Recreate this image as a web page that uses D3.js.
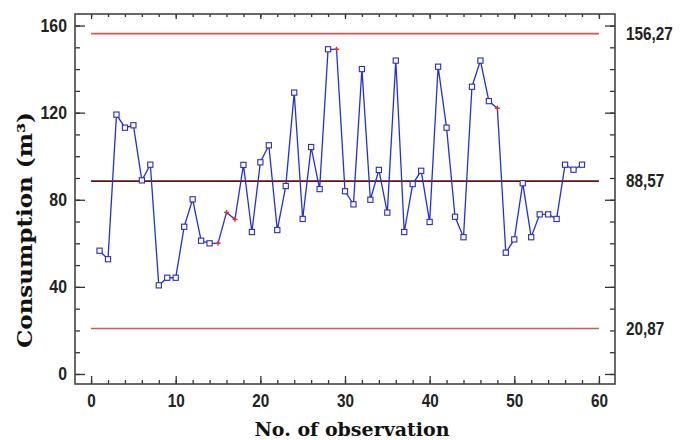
<!DOCTYPE html>
<html>
<head>
<meta charset="utf-8">
<script src="https://cdn.jsdelivr.net/npm/d3@7"></script>
<style>
  body { margin: 0; background: #fff; }
  .tick text { font-family: "Liberation Sans", Arial, sans-serif; font-weight: bold; }
</style>
</head>
<body>
<div id="chart"></div>
<script>
// consumption per observation (m3)
const observations = d3.range(1, 59);
const consumption = [
  56.6, 52.7, 119.1, 113.1, 114.2, 88.9, 96.1, 40.7, 44.2, 44.2,
  67.6, 80.2, 61.2, 60.0, 60.0, 74.2, 71.0, 96.0, 65.2, 97.2,
  105.0, 66.1, 86.3, 129.2, 71.2, 104.2, 84.9, 149.1, 149.1, 83.9,
  77.9, 140.0, 80.0, 93.7, 74.1, 143.9, 65.2, 87.2, 93.3, 69.8,
  141.1, 113.1, 72.2, 62.8, 131.9, 143.9, 125.3, 122.0, 55.7, 61.8,
  87.6, 62.8, 73.3, 73.3, 71.2, 96.1, 93.8, 96.1
];
// observations drawn as red crosses instead of squares
const flagged = [15, 16, 17, 29, 48];
// control limits
const limitValues = [156.27, 88.57, 20.87];
const limitLabels = ['156,27', '88,57', '20,87'];

const yMajor = [0, 40, 80, 120, 160];
const xMajor = [0, 10, 20, 30, 40, 50, 60];

const width = 682, height = 440;

const svg = d3.select('#chart')
  .append('svg')
  .attr('width', width)
  .attr('height', height);

const x = d3.scaleLinear().domain([-1.9, 61.9]).range([75, 615]);
const y = d3.scaleLinear().domain([-4.6, 165.3]).range([384, 14]);

const x0 = x.range()[0], x1 = x.range()[1];
const y0 = y.range()[0], y1 = y.range()[1];

// squeeze text a bit, the original uses a narrow bold face
function narrow(sel, factor) {
  sel.each(function() {
    const w = this.getComputedTextLength();
    d3.select(this)
      .attr('textLength', w * factor)
      .attr('lengthAdjust', 'spacingAndGlyphs');
  });
}

// limit lines
svg.selectAll('.limit')
  .data(limitValues)
  .enter()
  .append('line')
  .attr('class', 'limit')
  .attr('x1', x(0))
  .attr('x2', x(60))
  .attr('y1', d => y(d))
  .attr('y2', d => y(d))
  .attr('stroke', (d, i) => i === 1 ? '#5c1414' : '#cc5a55')
  .attr('stroke-width', 1.6);

// axes, ticks pointing inward
function styleAxis(g) {
  g.select('.domain').remove();
  g.selectAll('.tick line').attr('stroke', '#333').attr('stroke-width', 1.3);
  g.selectAll('.tick text').attr('fill', '#222').style('font-size', '18px');
}

svg.append('g')
  .attr('transform', `translate(${x0},0)`)
  .call(d3.axisLeft(y).tickValues(d3.range(0, 161, 10)).tickSize(-5).tickFormat(''))
  .call(styleAxis);
svg.append('g')
  .attr('transform', `translate(${x0},0)`)
  .call(d3.axisLeft(y).tickValues(yMajor).tickSize(-10).tickPadding(8))
  .call(styleAxis)
  .selectAll('.tick text').call(narrow, 0.88);

svg.append('g')
  .attr('transform', `translate(${x1},0)`)
  .call(d3.axisRight(y).tickValues(d3.range(0, 161, 10)).tickSize(-5).tickFormat(''))
  .call(styleAxis);
svg.append('g')
  .attr('transform', `translate(${x1},0)`)
  .call(d3.axisRight(y).tickValues(yMajor).tickSize(-10).tickFormat(''))
  .call(styleAxis);

svg.append('g')
  .attr('transform', `translate(0,${y0})`)
  .call(d3.axisBottom(x).tickValues(d3.range(0, 61, 2)).tickSize(-4).tickFormat(''))
  .call(styleAxis);
svg.append('g')
  .attr('transform', `translate(0,${y0})`)
  .call(d3.axisBottom(x).tickValues(xMajor).tickSize(-8).tickPadding(10))
  .call(styleAxis)
  .selectAll('.tick text').call(narrow, 0.85);

svg.append('g')
  .attr('transform', `translate(0,${y1})`)
  .call(d3.axisTop(x).tickValues(d3.range(0, 61, 2)).tickSize(-3).tickFormat(''))
  .call(styleAxis);
svg.append('g')
  .attr('transform', `translate(0,${y1})`)
  .call(d3.axisTop(x).tickValues(xMajor).tickSize(-5).tickFormat(''))
  .call(styleAxis);

// frame
svg.append('rect')
  .attr('x', x0)
  .attr('y', y1)
  .attr('width', x1 - x0)
  .attr('height', y0 - y1)
  .attr('fill', 'none')
  .attr('stroke', '#444')
  .attr('stroke-width', 1.6);

// limit labels on the right
svg.selectAll('.limit-label')
  .data(limitValues)
  .enter()
  .append('text')
  .attr('class', 'limit-label')
  .attr('x', 626)
  .attr('y', d => y(d))
  .attr('dy', '0.35em')
  .style('font-family', '"Liberation Sans", Arial, sans-serif')
  .style('font-weight', 'bold')
  .style('font-size', '18px')
  .attr('fill', '#222')
  .text((d, i) => limitLabels[i])
  .call(narrow, 0.85);

// series
const points = observations.map((o, i) => ({ obs: o, value: consumption[i] }));

svg.append('path')
  .datum(points)
  .attr('fill', 'none')
  .attr('stroke', '#2430d8')
  .attr('stroke-width', 1.3)
  .attr('d', d3.line().x(d => x(d.obs)).y(d => y(d.value)));

svg.selectAll('.pt')
  .data(points.filter(d => !flagged.includes(d.obs)))
  .enter()
  .append('rect')
  .attr('class', 'pt')
  .attr('x', d => x(d.obs) - 2.6)
  .attr('y', d => y(d.value) - 2.6)
  .attr('width', 5.2)
  .attr('height', 5.2)
  .attr('fill', '#fff')
  .attr('stroke', '#2a2ac8')
  .attr('stroke-width', 1.1);

svg.selectAll('.flag')
  .data(points.filter(d => flagged.includes(d.obs)))
  .enter()
  .append('path')
  .attr('class', 'flag')
  .attr('d', d => `M${x(d.obs) - 2.5},${y(d.value)}h5M${x(d.obs)},${y(d.value) - 2.5}v5`)
  .attr('stroke', '#e0302a')
  .attr('stroke-width', 1.4);

// axis titles
svg.append('text')
  .attr('x', 352)
  .attr('y', 436)
  .attr('text-anchor', 'middle')
  .style('font-family', '"DejaVu Serif", "Liberation Serif", serif')
  .style('font-weight', 'bold')
  .style('font-size', '19px')
  .attr('fill', '#111')
  .text('No. of observation');

svg.append('text')
  .attr('transform', 'translate(32,230) rotate(-90)')
  .attr('text-anchor', 'middle')
  .attr('textLength', 236)
  .attr('lengthAdjust', 'spacingAndGlyphs')
  .style('font-family', '"DejaVu Serif", "Liberation Serif", serif')
  .style('font-weight', 'bold')
  .style('font-size', '20px')
  .attr('fill', '#111')
  .text('Consumption (m³)');
</script>
</body>
</html>
